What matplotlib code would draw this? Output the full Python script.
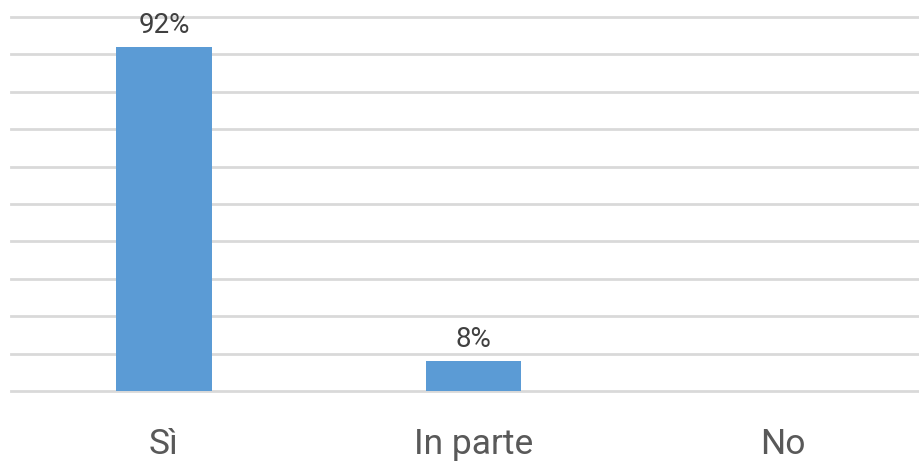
import matplotlib
matplotlib.use("Agg")
import matplotlib.pyplot as plt

categories = ["Sì", "In parte", "No"]
values = [92, 8, 0]
value_labels = ["92%", "8%", ""]

plt.rcParams['font.family'] = ['Roboto', 'DejaVu Sans']

W, H = 920, 462
fig = plt.figure(figsize=(W / 100, H / 100), dpi=100)
ax = fig.add_axes([11 / W, (H - 391) / H, 909 / W, 374 / H])

xs = list(range(len(categories)))
ax.bar(xs, values, width=0.31, color="#5B9BD5", zorder=3)
xmin = -(164 - 11) / 309.5
ax.set_xlim(xmin, xmin + 909 / 309.5)
ax.set_ylim(0, 100)
ax.set_yticks(range(0, 101, 10))
ax.yaxis.grid(True, color="#D9D9D9", linewidth=2, zorder=0)
for gl in ax.get_ygridlines():
    gl.set_clip_on(False)
ax.tick_params(axis="y", left=False, labelleft=False)
ax.tick_params(axis="x", bottom=False, pad=23, labelsize=25.5, labelcolor="#595959")
ax.set_xticks(xs)
ax.set_xticklabels(categories)
for s in ax.spines.values():
    s.set_visible(False)

for x, v, lab in zip(xs, values, value_labels):
    if lab:
        ax.annotate(lab, (x, v), xytext=(0, 8), textcoords="offset pixels",
                    ha="center", va="bottom", fontsize=20, color="#404040")

fig.savefig("out.png", dpi=100)
